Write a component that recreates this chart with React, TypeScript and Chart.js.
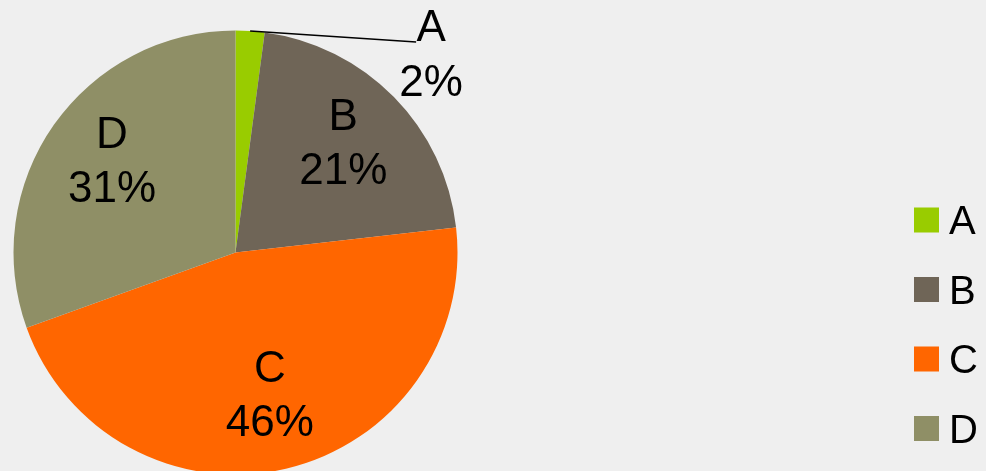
import React, { useEffect, useRef } from "react";
import { Chart, registerables } from "chart.js";

Chart.register(...registerables);

const categories = ["A", "B", "C", "D"];
const values = [2.1, 21.1, 46.3, 30.5];
const colors = ["#99CC00", "#6F6557", "#FF6600", "#8F8F66"];

const FONT = '"Liberation Sans", Arial, sans-serif';
const W = 986;
const H = 490;

const labelPlugin = {
  id: "sliceLabels",
  afterDatasetsDraw(chart: any) {
    const ctx = chart.ctx as CanvasRenderingContext2D;
    const meta = chart.getDatasetMeta(0);
    const data = chart.data.datasets[0].data as number[];
    const total = data.reduce((a, b) => a + b, 0);
    const size = 44;
    const capHalf = size * 0.358;
    ctx.save();
    ctx.fillStyle = "#000";
    ctx.font = `${size}px ${FONT}`;
    ctx.textAlign = "center";
    ctx.textBaseline = "alphabetic";
    meta.data.forEach((arc: any, i: number) => {
      const p = arc.getProps(["x", "y", "startAngle", "endAngle", "outerRadius"], true);
      const mid = (p.startAngle + p.endAngle) / 2;
      const pct = Math.round((data[i] * 100) / total) + "%";
      const name = String(chart.data.labels[i]);
      if (data[i] / total < 0.05) {
        const ex = p.x + Math.cos(mid) * p.outerRadius;
        const ey = p.y + Math.sin(mid) * p.outerRadius;
        const lx = ex + 166;
        const ly = ey + 11;
        ctx.strokeStyle = "#000";
        ctx.lineWidth = 1.5;
        ctx.beginPath();
        ctx.moveTo(ex, ey);
        ctx.lineTo(lx, ly);
        ctx.stroke();
        const tx = ex + 181;
        ctx.fillText(name, tx, ey - 6 + capHalf);
        ctx.fillText(pct, tx, ey + 49 + capHalf);
      } else {
        const r = p.outerRadius * 0.68;
        const cx = p.x + Math.cos(mid) * r;
        const cy = p.y + Math.sin(mid) * r - 6;
        ctx.fillText(name, cx, cy - 27 + capHalf);
        ctx.fillText(pct, cx, cy + 27 + capHalf);
      }
    });
    ctx.restore();
  },
};

const legendPlugin = {
  id: "sideLegend",
  afterDraw(chart: any) {
    const ctx = chart.ctx as CanvasRenderingContext2D;
    const labels = chart.data.labels as string[];
    const bg = chart.data.datasets[0].backgroundColor as string[];
    const size = 40;
    const box = 25;
    const boxX = 914;
    const textX = 949;
    const startY = 220;
    const step = 69.5;
    ctx.save();
    ctx.font = `${size}px ${FONT}`;
    ctx.textAlign = "left";
    ctx.textBaseline = "alphabetic";
    labels.forEach((lab, i) => {
      const cy = startY + i * step;
      ctx.fillStyle = bg[i];
      ctx.fillRect(boxX, cy - box / 2, box, box);
      ctx.fillStyle = "#000";
      ctx.fillText(lab, textX, cy + size * 0.358);
    });
    ctx.restore();
  },
};

export default function App() {
  const ref = useRef<HTMLCanvasElement | null>(null);
  useEffect(() => {
    if (!ref.current) return;
    const chart = new Chart(ref.current, {
      type: "pie",
      data: {
        labels: categories,
        datasets: [
          {
            data: values,
            backgroundColor: colors,
            borderWidth: 0,
            offset: 0,
            hoverOffset: 0,
          },
        ],
      },
      options: {
        responsive: false,
        animation: false,
        devicePixelRatio: 1,
        layout: { padding: { left: 13.5, right: 528.5, top: 30.5, bottom: 15.5 } },
        plugins: {
          legend: { display: false },
          tooltip: { enabled: false },
        },
      },
      plugins: [labelPlugin, legendPlugin],
    } as any);
    return () => chart.destroy();
  }, []);
  return (
    <div
      style={{
        position: "fixed",
        left: 0,
        top: 0,
        width: 986,
        height: 471,
        overflow: "hidden",
        background: "#efefef",
      }}
    >
      <canvas ref={ref} width={W} height={H} style={{ display: "block", width: W, height: H }} />
    </div>
  );
}
